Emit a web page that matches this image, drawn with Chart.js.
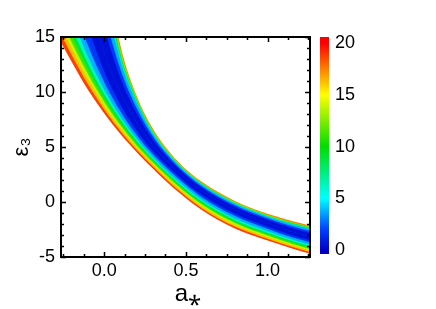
<!DOCTYPE html>
<html>
<head>
<meta charset="utf-8">
<script src="https://cdn.jsdelivr.net/npm/chart.js@4.4.1/dist/chart.umd.min.js"></script>
<style>
  body { margin: 0; background: #fff; }
  #wrap { position: relative; width: 436px; height: 309px; }
  #wrap canvas { position: absolute; left: 0; top: 0; }
</style>
</head>
<body>
<div id="wrap">
  <canvas id="map" width="436" height="309"></canvas>
  <canvas id="bar" width="436" height="309"></canvas>
</div>
<script>
// a* grid where the level curves were read
const aStar = [-0.3, -0.2, -0.1, 0, 0.1, 0.2, 0.3, 0.45, 0.6, 0.8, 1.0, 1.15, 1.3];

// valley of the map (value 0)
const epsMin = [42.5, 27.4, 19.0, 13.6, 9.9, 7.2, 5.1, 2.8, 1.0, -0.7, -1.9, -2.7, -3.3];

// level curves below the valley
const lo1 = [30.34, 21.69, 16.0, 11.89, 8.83, 6.47, 4.59, 2.42, 0.63, -1.05, -2.23, -3.02, -3.63];
const lo2 = [23.2, 18.33, 14.24, 10.89, 8.2, 6.04, 4.29, 2.19, 0.42, -1.26, -2.43, -3.2, -3.82];
const lo5 = [21.1, 16.86, 13.23, 10.2, 7.75, 5.73, 4.05, 1.93, 0.18, -1.5, -2.65, -3.41, -4.05];
const lo7 = [19.76, 15.93, 12.6, 9.77, 7.45, 5.51, 3.86, 1.76, 0.02, -1.65, -2.8, -3.55, -4.19];
const lo10 = [18.75, 15.21, 12.1, 9.42, 7.19, 5.31, 3.71, 1.6, -0.14, -1.81, -2.94, -3.69, -4.33];
const lo12 = [17.83, 14.54, 11.63, 9.09, 6.95, 5.12, 3.54, 1.47, -0.26, -1.92, -3.05, -3.79, -4.44];
const lo15 = [17.06, 13.98, 11.18, 8.75, 6.7, 4.94, 3.38, 1.32, -0.4, -2.06, -3.18, -3.92, -4.57];
const lo17 = [16.27, 13.37, 10.7, 8.42, 6.44, 4.73, 3.2, 1.13, -0.58, -2.23, -3.34, -4.07, -4.73];
const lo20 = [15.45, 12.75, 10.2, 8.05, 6.15, 4.5, 3.0, 0.95, -0.75, -2.4, -3.5, -4.22, -4.89];

// level curves above the valley
const up1 = [48.49, 32.82, 22.78, 15.94, 11.22, 8.0, 5.6, 3.09, 1.26, -0.45, -1.64, -2.39, -2.97];
const up2 = [52, 36, 25, 17.31, 11.99, 8.47, 5.9, 3.26, 1.41, -0.3, -1.48, -2.21, -2.78];
const up5 = [56, 40, 28.5, 19.2, 12.8, 8.95, 6.13, 3.42, 1.55, -0.16, -1.34, -2.04, -2.6];
const up7 = [58, 41.5, 29.5, 19.84, 13.13, 9.12, 6.24, 3.48, 1.61, -0.1, -1.28, -1.97, -2.53];
const up10 = [60, 43, 30.5, 20.45, 13.41, 9.27, 6.32, 3.53, 1.65, -0.06, -1.24, -1.92, -2.48];
const up15 = [64, 46, 35, 21.29, 13.85, 9.47, 6.47, 3.62, 1.73, 0.02, -1.15, -1.83, -2.37];
const up20 = [70, 50, 39.4, 22.1, 14.16, 9.58, 6.62, 3.71, 1.81, 0.1, -1.07, -1.73, -2.27];

// value shown between a curve and the next one inwards
const bandValue = {
  lo1: 0.5, lo2: 1.75, lo5: 3.75, lo7: 6.25, lo10: 8.75, lo12: 11.25, lo15: 13.75, lo17: 16.25, lo20: 18.75,
  up1: 0.5, up2: 1.75, up5: 3.75, up7: 6.25, up10: 8.75, up15: 12.5, up20: 17.5
};

const xTicks = [0, 0.5, 1.0];
const yTicks = [-5, 0, 5, 10, 15];
const barTicks = [0, 5, 10, 15, 20];

// colour scale
const colorStops = [
  [0, [0, 0, 200]],
  [2, [0, 64, 255]],
  [5, [0, 255, 255]],
  [10, [0, 221, 0]],
  [15, [255, 255, 0]],
  [20, [255, 0, 0]]
];

function colorAt(v) {
  for (let i = 1; i < colorStops.length; i++) {
    const [v1, c1] = colorStops[i];
    const [v0, c0] = colorStops[i - 1];
    if (v <= v1) {
      const t = (v - v0) / (v1 - v0);
      const c = c0.map((ch, k) => Math.round(ch + t * (c1[k] - ch)));
      return `rgb(${c[0]}, ${c[1]}, ${c[2]})`;
    }
  }
  return 'rgb(255, 0, 0)';
}

// inner curves first: they are drawn last, on top of the outer ones
const curves = {
  lo1, up1, lo2, up2, lo5, up5, lo7, up7, lo10, up10, lo12, lo15, up15, lo17, lo20, up20
};

const datasets = [
  {
    data: aStar.map((a, i) => ({ x: a, y: epsMin[i] })),
    borderWidth: 0,
    pointRadius: 0,
    fill: false,
    cubicInterpolationMode: 'monotone'
  }
];
Object.keys(curves).forEach((name) => {
  datasets.push({
    data: aStar.map((a, i) => ({ x: a, y: curves[name][i] })),
    borderWidth: 0,
    pointRadius: 0,
    backgroundColor: colorAt(bandValue[name]),
    fill: 0,
    cubicInterpolationMode: 'monotone'
  });
});

const FONT = 'Arial, "Liberation Sans", sans-serif';

// frame with inward ticks on all four sides
const frameTicks = {
  id: 'frameTicks',
  afterDatasetsDraw(chart) {
    const { ctx, chartArea: area, scales: { x, y } } = chart;
    ctx.save();
    ctx.strokeStyle = '#000';
    ctx.lineWidth = 1.5;
    ctx.beginPath();
    for (let v = -0.25; v <= 1.25 + 1e-9; v += 0.125) {
      const px = Math.round(x.getPixelForValue(v)) + 0.5;
      const len = Math.abs(v * 2 - Math.round(v * 2)) < 1e-6 ? 5 : 3;
      ctx.moveTo(px, area.bottom);
      ctx.lineTo(px, area.bottom - len);
      ctx.moveTo(px, area.top);
      ctx.lineTo(px, area.top + len);
    }
    for (let v = -5; v <= 15; v += 1) {
      const py = Math.round(y.getPixelForValue(v)) + 0.5;
      const len = v % 5 === 0 ? 5 : 3;
      ctx.moveTo(area.left, py);
      ctx.lineTo(area.left + len, py);
      ctx.moveTo(area.right, py);
      ctx.lineTo(area.right - len, py);
    }
    ctx.stroke();
    ctx.lineWidth = 2;
    ctx.strokeRect(area.left, area.top, area.width, area.height);
    ctx.restore();
  }
};

new Chart(document.getElementById('map'), {
  type: 'line',
  data: { datasets },
  options: {
    responsive: false,
    animation: false,
    events: [],
    layout: { padding: { left: 0, top: 37, right: 126, bottom: 0 } },
    plugins: { legend: { display: false }, tooltip: { enabled: false } },
    scales: {
      x: {
        type: 'linear',
        min: -0.265,
        max: 1.26,
        grid: { display: false, drawTicks: false },
        border: { display: false },
        afterBuildTicks: (s) => { s.ticks = xTicks.map((v) => ({ value: v })); },
        afterFit: (s) => { s.height = 52; },
        ticks: {
          padding: 3,
          color: '#000',
          font: { family: FONT, size: 18 },
          callback: (v) => Number(v).toFixed(1)
        },
        title: {
          display: true,
          text: '\u2009a\u204E',
          color: '#000',
          font: { family: FONT, size: 24 },
          padding: { top: 0, bottom: 0 }
        }
      },
      y: {
        min: -5,
        max: 15,
        grid: { display: false, drawTicks: false },
        border: { display: false },
        afterBuildTicks: (s) => { s.ticks = yTicks.map((v) => ({ value: v })); },
        afterFit: (s) => { s.width = 61; },
        ticks: {
          padding: 6,
          color: '#000',
          font: { family: FONT, size: 18 }
        },
        title: {
          display: true,
          text: '\u03B5\u2083',
          color: '#000',
          font: { family: FONT, size: 22 },
          padding: { top: 9, bottom: 0 }
        }
      }
    }
  },
  plugins: [frameTicks]
});

// colour bar
new Chart(document.getElementById('bar'), {
  type: 'bar',
  data: {
    labels: [''],
    datasets: [{
      data: [[-0.4, 20.6]],
      categoryPercentage: 1,
      barPercentage: 1,
      borderWidth: 0,
      backgroundColor: (c) => {
        const area = c.chart.chartArea;
        if (!area) return null;
        const ys = c.chart.scales.y;
        const g = c.chart.ctx.createLinearGradient(0, ys.getPixelForValue(0), 0, ys.getPixelForValue(20));
        colorStops.forEach(([v, rgb]) => g.addColorStop(v / 20, `rgb(${rgb[0]}, ${rgb[1]}, ${rgb[2]})`));
        return g;
      }
    }]
  },
  options: {
    responsive: false,
    animation: false,
    events: [],
    layout: { padding: { left: 320, top: 37, right: 0, bottom: 55 } },
    plugins: { legend: { display: false }, tooltip: { enabled: false } },
    scales: {
      x: { display: false },
      y: {
        position: 'right',
        min: -0.4,
        max: 20.6,
        grid: { display: false, drawTicks: false },
        border: { display: false },
        afterBuildTicks: (s) => { s.ticks = barTicks.map((v) => ({ value: v })); },
        afterFit: (s) => { s.width = 107; },
        ticks: {
          padding: 6,
          color: '#000',
          font: { family: FONT, size: 18 }
        }
      }
    }
  }
});
</script>
</body>
</html>
